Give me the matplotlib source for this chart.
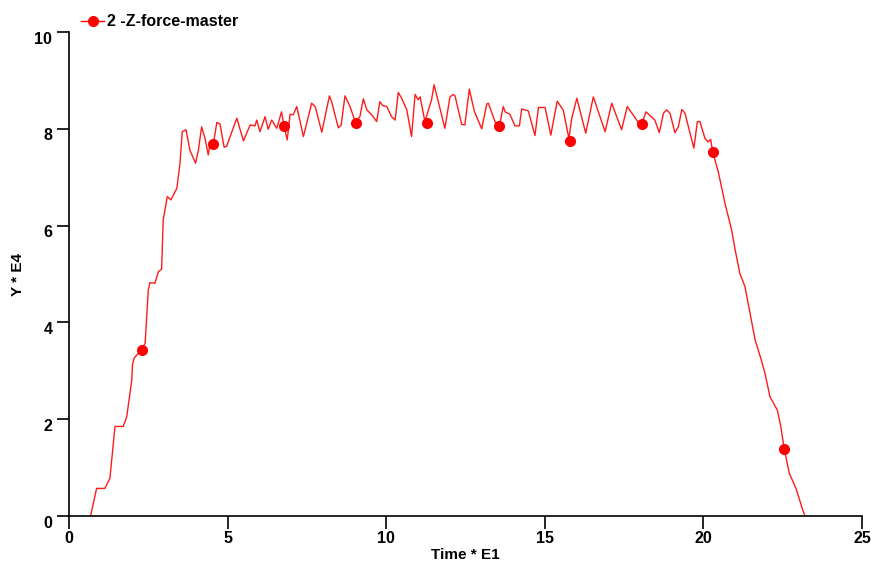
import numpy as np
import matplotlib
matplotlib.use("Agg")
import matplotlib.pyplot as plt
import matplotlib.transforms as mtransforms
from matplotlib.lines import Line2D

# =========================
# Data
# =========================
time_e1 = [0.68, 0.87, 1.13, 1.29, 1.45, 1.71, 1.82, 1.98, 2.00, 2.05, 2.29, 2.40,
           2.50, 2.55, 2.71, 2.82, 2.92, 2.97, 3.10, 3.21, 3.40, 3.50, 3.57, 3.69,
           3.81, 3.99, 4.08, 4.18, 4.29, 4.39, 4.45, 4.55, 4.66, 4.76, 4.89, 4.97,
           5.29, 5.50, 5.71, 5.86, 5.92, 6.02, 6.18, 6.28, 6.39, 6.55, 6.70, 6.78,
           6.88, 6.97, 7.07, 7.18, 7.39, 7.65, 7.76, 7.97, 8.21, 8.28, 8.49, 8.58,
           8.70, 8.86, 9.02, 9.17, 9.28, 9.39, 9.54, 9.70, 9.80, 9.89, 10.02, 10.17,
           10.28, 10.38, 10.49, 10.65, 10.80, 10.91, 11.01, 11.07, 11.22, 11.43, 11.51, 11.59,
           11.85, 12.01, 12.12, 12.17, 12.38, 12.48, 12.62, 12.78, 13.01, 13.17, 13.22, 13.43,
           13.57, 13.69, 13.75, 13.90, 14.06, 14.20, 14.27, 14.48, 14.69, 14.80, 15.01, 15.19,
           15.39, 15.58, 15.76, 15.85, 16.01, 16.29, 16.53, 16.90, 17.11, 17.42, 17.60, 17.95,
           18.05, 18.19, 18.47, 18.61, 18.74, 18.84, 18.95, 19.10, 19.21, 19.32, 19.42, 19.70,
           19.81, 19.89, 20.05, 20.15, 20.23, 20.29, 20.47, 20.68, 20.89, 21.00, 21.15, 21.31,
           21.47, 21.63, 21.84, 21.94, 22.10, 22.33, 22.44, 22.55, 22.62, 22.71, 22.92, 23.10,
           23.20]
force_e4 = [0.00, 0.57, 0.57, 0.78, 1.85, 1.85, 2.05, 2.81, 3.12, 3.26, 3.44, 3.57,
            4.67, 4.82, 4.81, 5.05, 5.10, 6.12, 6.60, 6.53, 6.77, 7.29, 7.94, 7.98,
            7.56, 7.29, 7.56, 8.04, 7.80, 7.46, 7.70, 7.68, 8.13, 8.10, 7.62, 7.64,
            8.22, 7.75, 8.08, 8.06, 8.18, 7.94, 8.25, 7.99, 8.18, 8.01, 8.35, 8.06,
            7.77, 8.30, 8.29, 8.46, 7.84, 8.53, 8.46, 7.93, 8.68, 8.56, 8.02, 8.08,
            8.68, 8.46, 8.15, 8.25, 8.62, 8.39, 8.29, 8.15, 8.56, 8.48, 8.46, 8.25,
            8.18, 8.75, 8.63, 8.39, 7.84, 8.71, 8.60, 8.66, 8.15, 8.60, 8.91, 8.70,
            8.01, 8.66, 8.71, 8.68, 8.09, 8.08, 8.82, 8.36, 8.00, 8.51, 8.53, 8.15,
            8.06, 8.46, 8.35, 8.30, 8.06, 8.06, 8.41, 8.37, 7.86, 8.44, 8.44, 7.87,
            8.57, 8.39, 7.80, 8.22, 8.63, 7.91, 8.66, 7.94, 8.53, 7.98, 8.46, 8.13,
            8.09, 8.35, 8.18, 7.92, 8.32, 8.39, 8.32, 7.92, 8.04, 8.40, 8.32, 7.60,
            8.15, 8.15, 7.80, 7.73, 7.78, 7.53, 7.11, 6.46, 5.91, 5.50, 5.01, 4.74,
            4.19, 3.64, 3.19, 2.95, 2.46, 2.19, 1.85, 1.38, 1.16, 0.88, 0.57, 0.19,
            0.00]

# marker symbols along the curve
marker_time = [2.29, 4.55, 6.78, 9.05, 11.28, 13.57, 15.79, 18.05, 20.29, 22.55]
marker_force = [3.44, 7.68, 8.06, 8.11, 8.11, 8.06, 7.75, 8.09, 7.53, 1.38]

x_ticks = [0, 5, 10, 15, 20, 25]
y_ticks = [0, 2, 4, 6, 8, 10]
series_name = "2 -Z-force-master"

# =========================
# Plot
# =========================
plt.rcParams['font.family'] = ['Liberation Sans', 'DejaVu Sans']
plt.rcParams['font.weight'] = 'bold'

fig = plt.figure(figsize=(8.72, 5.63), dpi=100)
ax = fig.add_axes([69/872, 1 - 516/563, 793/872, 484/563])

ax.plot(time_e1, force_e4, color='#ff1a1a', lw=1.0)
ax.plot(marker_time, marker_force, linestyle='none', marker='o',
        color='red', markersize=8, markeredgewidth=0)

ax.set_xlim(0, 25)
ax.set_ylim(0, 10)
ax.set_xticks(x_ticks)
ax.set_yticks(y_ticks)

for s in ['top', 'right']:
    ax.spines[s].set_visible(False)
for s in ['left', 'bottom']:
    ax.spines[s].set_linewidth(1.2)

ax.tick_params(axis='both', direction='out', length=9, width=1.2, labelsize=11.5)
ax.tick_params(axis='y', pad=3)
ax.tick_params(axis='x', pad=2)

# y tick labels sit a little below their ticks in the original
shift = mtransforms.ScaledTranslation(0, -4/72, fig.dpi_scale_trans)
for lab in ax.get_yticklabels():
    lab.set_transform(lab.get_transform() + shift)
for lab in ax.get_xticklabels() + ax.get_yticklabels():
    lab.set_fontweight('bold')

ax.set_xlabel("Time * E1", fontsize=11, fontweight='bold', labelpad=1)
ax.set_ylabel("Y * E4", fontsize=11, fontweight='bold', labelpad=7)

# legend above the axes
handle = Line2D([], [], color='red', lw=1.0, marker='o', markersize=8,
                markeredgewidth=0)
fig.legend([handle], [series_name], loc='center left',
           bbox_to_anchor=(81/872, 1 - 22/563), frameon=False,
           handlelength=1.45, handletextpad=0.2, borderpad=0, borderaxespad=0,
           prop={'weight': 'bold', 'size': 11.5})

fig.savefig("out.png", dpi=100)
